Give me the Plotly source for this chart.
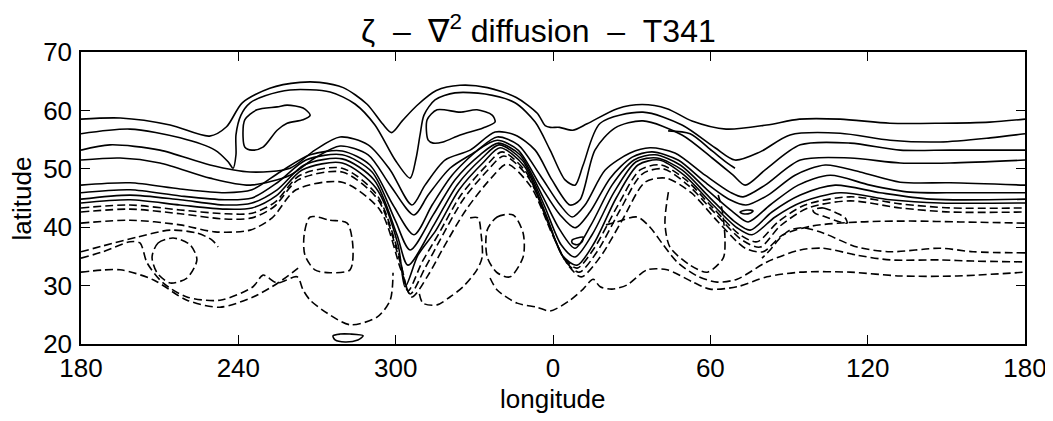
import plotly.graph_objects as go

# ---- axis ticks -------------------------------------------------------
lon_ticks = [180, 240, 300, 360, 420, 480, 540]
lon_tick_labels = ["180", "240", "300", "0", "60", "120", "180"]
lat_ticks = [20, 30, 40, 50, 60, 70]

# ---- contour lines (longitude in 180..540, where 360 = 0E) -------------
# positive (solid) contours
S1_lon = [180,195,214,229,235.5,241.5,252,263.5,271,280,289,295,298.5,302.5,308,315.5,324.5,335,346,354,357,359,362.5,367.5,373,384.5,394,403.5,413,426,441.5,454,469.5,488.5,507.5,526.5,540]
S1_lat = [58.5,58.7,57.5,55.6,57.2,61.3,63.8,64.8,64.8,63.9,61.1,57.7,56.2,58.2,60.8,63.4,64.3,63.9,62.2,59.5,57.4,57.1,57.1,56.6,57.7,60.3,61.0,60.3,58.2,56.8,57.5,58.5,58.5,57.8,57.8,58.0,58.5]

S2_lon = [180,198.7,217.8,231.1,236.1,238.0,239.1,239.1,241.0,244.5,250.2,259.7,275.0,284.5,292.1,299.8,305.5,307.8,309.3,310.8,315.0,322.6,334.1,345.5,353.2,358.9,364.6,368.4,371.5,378.0,394.3,409.2,421.8,429.4,439.0,450.4,469.5,488.6,507.6,526.7,540]
S2_lat = [56.0,56.8,55.3,53.2,51.2,50.1,52.4,55.8,59.2,61.3,62.5,63.5,63.15,61.1,57.5,51.5,48.4,51.85,55.8,59.2,61.8,63.0,62.8,61.3,58.0,53.2,48.1,47.2,50.65,57.8,59.7,57.5,53.6,51.5,52.9,55.8,56.1,54.9,54.6,55.3,56.0]

S3_lon = [180,191.05,210.1,229.2,244.5,259.7,269.2,278.8,289.5,297.9,306.2,311.2,318.8,328.4,337.9,345.5,353.2,359.6,366.5,370.3,376.0,383.7,394.3,409.2,420.7,428.7,433.3,440.9,454.3,473.3,492.4,511.4,540]
S3_lat = [53.2,54.1,53.2,50.65,49.45,50.1,53.2,55.45,54.1,49.8,43.8,47.2,51.5,53.2,56.3,55.8,53.2,48.1,43.8,44.7,53.2,57.0,58.2,55.8,51.85,48.9,47.2,49.8,54.1,54.4,53.2,53.2,53.2]

S4_lon = [180,194.9,210.1,229.2,244.5,259.7,269.2,278.8,289.5,297.9,307.0,312.4,320.7,330.3,338.7,346.7,355.1,362.7,367.3,372.2,379.9,389.4,397.0,406.5,418.0,427.5,432.5,440.9,454.3,473.3,492.4,511.4,540]
S4_lat = [51.5,51.85,51.0,48.4,47.2,48.9,51.85,53.9,52.4,47.2,42.1,45.5,50.1,52.9,55.45,54.1,48.9,43.8,41.75,43.8,49.8,52.7,53.6,52.7,48.9,46.0,45.2,47.2,51.5,51.85,51.0,51.0,51.5]

S5_lon = [180,198.7,217.8,234.9,245.2,255.9,267.4,279.6,290.2,299.0,307.0,313.9,321.5,331.4,338.7,346.7,355.1,362.7,368.4,374.1,381.8,390.2,397.8,407.7,418.0,427.5,433.6,442.0,452.3,463.8,477.1,492.4,511.4,540]
S5_lat = [47.2,47.6,46.55,45.9,46.4,49.45,52.4,53.05,50.65,43.8,38.7,43.8,48.9,53.2,54.9,53.2,47.2,42.1,39.9,42.6,48.4,52.0,52.9,51.5,47.7,44.7,43.8,45.5,48.9,50.65,49.45,47.7,47.6,47.2]

S6_lon = [180,198.7,217.8,234.9,245.2,255.1,265.8,279.6,291.0,299.8,305.5,314.3,322.6,332.2,339.1,347.4,355.8,362.7,368.4,374.5,382.5,390.9,398.9,408.5,418.8,428.7,434.4,442.8,453.5,465.7,480.9,496.2,515.2,540]
S6_lat = [45.9,46.4,45.35,44.7,45.0,47.7,51.5,52.4,49.45,41.2,36.1,42.1,48.1,52.4,54.4,52.4,45.5,39.5,36.4,40.4,47.2,51.5,52.4,50.65,46.4,42.6,40.9,43.8,47.2,48.9,47.2,46.0,45.9,45.9]

S7_lon = [180,198.7,217.8,234.9,245.2,254.8,265.1,279.6,291.8,300.5,304.7,314.6,323.4,333.0,339.4,348.2,356.6,363.1,368.4,374.9,383.3,391.7,399.7,409.2,419.5,429.4,435.2,443.5,454.3,467.6,484.7,503.8,540]
S7_lat = [44.8,45.5,44.7,43.8,44.15,46.4,50.65,51.7,48.1,38.7,33.5,40.4,47.2,51.85,54.1,51.5,43.8,37.0,34.9,38.7,46.0,51.2,51.85,49.8,45.2,40.9,39.5,42.6,45.5,47.2,45.9,44.8,44.8]

S8_lon = [180,198.7,217.8,234.9,245.2,254.4,264.3,279.6,292.5,300.9,303.6,308.5,315.4,324.2,333.7,339.8,349.0,357.4,363.5,369.2,375.7,384.1,392.4,400.5,410.0,420.3,430.2,435.9,444.7,455.0,469.5,488.6,507.6,540]
S8_lat = [44.15,44.7,43.8,43.1,43.3,45.35,49.8,51.0,46.7,37.0,29.8,35.2,39.5,46.4,51.2,53.6,50.5,42.1,35.2,33.5,37.3,45.0,50.65,51.5,48.9,44.15,39.9,38.7,41.75,44.3,45.9,44.7,44.15,44.15]

# closed / folded positive contours
E1_lon = [241.8,242.5,247.1,254.8,258.6,264.7,267.4,264.7,258.6,254.8,249.4,245.2,242.5,241.8]
E1_lat = [55.45,58.4,60.1,60.6,60.9,60.4,59.2,58.4,57.8,56.6,53.7,53.2,53.7,55.45]
E2_lon = [312.4,312.0,315.8,324.6,331.0,336.8,337.9,333.3,324.6,318.1,314.3,312.4]
E2_lat = [54.9,58.4,60.1,59.7,60.1,59.2,58.0,57.0,55.8,54.6,54.4,54.9]
T1_lon = [403.9,412.3,420.7,426.4,429.4]
T1_lat = [56.5,56.0,53.05,51.0,50.1]
SL1_lon = [367.3,369.2,371.5,371.1,369.2,367.3,367.3]
SL1_lat = [37.8,38.15,38.3,37.5,37.0,37.3,37.8]
SL2_lon = [431.3,434.0,436.3,435.2,432.5,431.3]
SL2_lat = [42.6,42.95,42.8,42.4,42.3,42.6]
SL3_lon = [276.1,278.8,282.6,287.6,285.6,280.7,276.9,276.1]
SL3_lat = [21.4,21.7,21.7,21.4,20.7,20.35,20.7,21.4]

# negative (dashed) contours
D1_lon = [180,198.7,217.8,234.9,245.2,254.0,263.5,279.6,292.9,301.3,304.7,310.1,316.2,324.9,334.5,340.6,349.7,358.1,364.2,369.2,375.7,384.8,393.2,401.2,410.7,421.0,431.3,437.8,445.8,456.1,473.3,492.4,511.4,540]
D1_lat = [43.3,43.8,42.95,42.3,42.4,44.3,48.9,50.1,45.5,35.2,29.1,34.05,38.7,45.5,50.5,52.9,49.45,40.9,34.7,33.0,36.4,43.8,49.8,50.65,48.1,43.3,38.7,37.5,40.9,43.8,45.2,44.0,43.3,43.3]

D2_lon = [180,198.7,217.8,234.9,245.2,253.6,262.8,279.6,293.3,301.7,305.5,311.2,316.9,325.7,335.2,341.3,350.5,358.9,365.0,370.0,376.8,385.6,394.0,402.0,411.5,421.8,432.1,439.0,446.6,457.3,473.3,492.4,511.4,540]
D2_lat = [42.6,43.1,42.3,41.4,41.6,43.5,48.1,49.45,44.7,34.05,28.55,33.0,37.8,44.7,49.8,52.2,48.6,39.9,34.05,32.3,35.8,42.95,49.1,50.0,47.2,42.4,37.8,36.6,40.2,43.3,44.5,43.3,42.6,42.6]

D3_lon = [180,198.7,217.8,231.1,244.5,252.9,262.0,279.6,294.0,302.0,306.2,312.4,318.1,326.8,336.4,342.5,351.6,360.0,366.1,370.8,378.0,386.4,395.1,403.1,412.7,423.0,433.3,440.1,447.7,458.8,477.1,496.2,515.2,540]
D3_lat = [40.7,41.2,40.4,39.2,39.5,41.6,46.4,47.7,42.95,32.7,28.05,31.8,36.4,42.95,48.4,50.8,46.9,38.5,33.3,31.5,34.9,41.2,47.7,48.4,45.9,40.9,36.4,35.8,38.7,40.2,40.9,41.05,40.9,40.7]

LA_lon = [180,188.4,201.4,214.0,224.2,230.0,232.3]
LA_lat = [35.8,36.8,38.3,39.5,39.0,37.8,36.6]
LB_lon = [180,188.4,198.7,202.5,205.2,211.3,220.4,233.0,245.6,249.4,254.8,262.4,264.7,267.4,273.8,282.6,292.9,297.9,299.0]
LB_lat = [34.7,35.8,37.5,37.3,33.9,30.45,28.05,27.5,29.8,31.8,30.45,31.5,29.25,27.5,25.3,23.3,24.6,27.5,32.2]
LC_lon = [180,194.9,207.5,220.4,233.0,245.6,255.1,262.8]
LC_lat = [32.3,32.7,31.0,27.5,26.3,28.05,30.45,33.0]
LD_lon = [328.4,331.4,332.6,333.0,331.0,325.7,320.7,315.8,310.4,308.9]
LD_lat = [41.6,41.6,38.7,34.9,32.7,29.8,28.05,26.7,27.0,28.9]
P_lon = [336.0,338.7,346.3,353.9,358.9,366.5,371.5,375.3,378.0,382.5,388.2,395.9,403.5,413.4,419.9,430.2,441.6,454.3,473.3,492.4,514.1,540]
P_lat = [31.3,29.25,27.0,26.3,25.65,27.5,29.4,31.1,29.8,29.4,30.1,32.7,32.7,30.6,29.4,29.8,31.5,32.3,32.3,31.65,31.65,32.3]
Q_lon = [380.2,384.4,392.1,397.0,402.0,407.3,415.0,422.6,430.2,441.6,454.3,463.0,476.0,488.6,507.6,520.2,540]
Q_lat = [40.4,40.9,41.75,40.0,37.0,34.05,31.65,30.6,31.1,34.05,36.1,36.4,35.2,34.4,34.4,34.2,34.05]
U_lon = [404.0,402.7,404.6,412.3,418.8,424.9,425.6,424.5,423.0]
U_lat = [46.0,40.7,36.6,33.5,32.3,34.7,37.8,42.95,45.5]
L2_lon = [267.4,275.0,281.5,283.7,282.6,275.0,269.2,265.4,265.1,267.4]
L2_lat = [41.75,41.2,40.7,36.6,32.7,32.2,32.7,35.2,38.7,41.75]
L3_lon = [334.9,338.7,344.8,348.6,348.6,343.6,338.7,334.9,334.9]
L3_lat = [39.5,41.75,42.1,39.0,34.9,31.5,32.2,34.9,39.5]
C1_lon = [207.1,209.4,215.1,221.6,224.2,220.4,214.0,209.0,207.1]
C1_lat = [34.9,37.3,38.15,37.0,34.4,31.3,30.45,32.2,34.9]
L4_lon = [459.2,463.0,468.3,471.4,472.2,469.5,463.0,459.9,459.2]
L4_lat = [42.95,43.3,42.4,41.6,40.7,40.9,41.9,42.4,42.95]
D4_lon = [540,520.2,507.6,488.6,476.0,463.0,455.4,450.4,446.6,442.8,439.7]
D4_lat = [35.6,35.8,36.4,35.8,36.6,39.0,39.9,39.5,38.15,36.1,34.7]

solid = [(S1_lon, S1_lat), (S2_lon, S2_lat), (S3_lon, S3_lat), (S4_lon, S4_lat),
         (S5_lon, S5_lat), (S6_lon, S6_lat), (S7_lon, S7_lat), (S8_lon, S8_lat),
         (E1_lon, E1_lat), (E2_lon, E2_lat), (T1_lon, T1_lat), (SL1_lon, SL1_lat),
         (SL2_lon, SL2_lat), (SL3_lon, SL3_lat)]
dashed = [(D1_lon, D1_lat), (D2_lon, D2_lat), (D3_lon, D3_lat), (LA_lon, LA_lat),
          (LB_lon, LB_lat), (LC_lon, LC_lat), (LD_lon, LD_lat), (P_lon, P_lat),
          (Q_lon, Q_lat), (U_lon, U_lat), (L2_lon, L2_lat), (L3_lon, L3_lat),
          (C1_lon, C1_lat), (L4_lon, L4_lat), (D4_lon, D4_lat)]

fig = go.Figure()
for lon, lat in solid:
    fig.add_trace(go.Scatter(x=lon, y=lat, mode="lines", hoverinfo="skip", showlegend=False,
                             line=dict(color="black", width=1.6, shape="spline", smoothing=0.8)))
for lon, lat in dashed:
    fig.add_trace(go.Scatter(x=lon, y=lat, mode="lines", hoverinfo="skip", showlegend=False,
                             line=dict(color="black", width=1.6, shape="spline", smoothing=0.8,
                                       dash="8px,4px")))

FONT = "Liberation Sans, Arial, Helvetica, sans-serif"
NB = "\u00a0"
title_text = "ζ" + NB * 2 + "–" + NB * 2 + "∇<sup>2</sup>" + NB + "diffusion" + NB * 2 + "–" + NB * 2 + "T341"

# the page body adds an 8 px offset, so the figure is 8 px smaller than the window
fig.update_layout(
    width=1045, height=413,
    margin=dict(l=73, r=28, t=44, b=77, autoexpand=False),
    paper_bgcolor="white", plot_bgcolor="white",
    font=dict(family=FONT, size=26, color="black"),
    showlegend=False,
    annotations=[
        dict(text=title_text, xref="paper", yref="paper", x=0.485, y=1.08,
             xanchor="center", yanchor="middle", showarrow=False,
             font=dict(family=FONT, size=32, color="black")),
        dict(text="longitude", xref="paper", yref="paper", x=0.5, y=-0.19,
             xanchor="center", yanchor="middle", showarrow=False,
             font=dict(family=FONT, size=26, color="black")),
        dict(text="latitude", xref="paper", yref="paper", x=-0.062, y=0.5, textangle=-90,
             xanchor="center", yanchor="middle", showarrow=False,
             font=dict(family=FONT, size=26, color="black")),
    ],
)
fig.update_xaxes(range=[180, 540], tickmode="array", tickvals=lon_ticks, ticktext=lon_tick_labels,
                 ticks="inside", ticklen=9, tickwidth=1.2, tickcolor="black",
                 showline=True, linecolor="black", linewidth=1.5, mirror="ticks",
                 showgrid=False, zeroline=False, ticklabelstandoff=0, automargin=False,
                 tickfont=dict(family=FONT, size=26, color="black"))
fig.update_yaxes(range=[20, 70], tickmode="array", tickvals=lat_ticks,
                 ticks="inside", ticklen=9, tickwidth=1.2, tickcolor="black",
                 showline=True, linecolor="black", linewidth=1.5, mirror="ticks",
                 showgrid=False, zeroline=False, ticklabelstandoff=2, automargin=False,
                 tickfont=dict(family=FONT, size=26, color="black"))

fig.write_html("out.html", config={"displayModeBar": False})
